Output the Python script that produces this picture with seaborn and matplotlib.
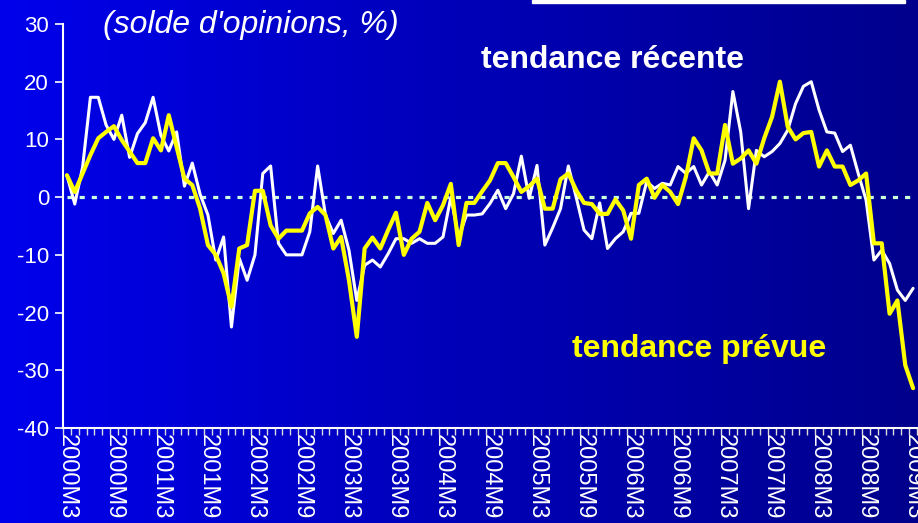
import numpy as np
import pandas as pd
import matplotlib
matplotlib.use("Agg")
import matplotlib.pyplot as plt
import seaborn as sns
from matplotlib.colors import LinearSegmentedColormap
from matplotlib.patches import Rectangle

# monthly periods 2000M3 .. 2009M3
months = [f"{y}M{m}" for y in range(2000, 2010) for m in range(1, 13)][2:111]

# opinion balance (%)
recent = [3.8, -1.2, 5.2, 17.3, 17.3, 12.5, 10.0, 14.2, 6.9, 11.0,
          12.9, 17.3, 10.7, 8.0, 11.3, 1.9, 5.9, 0.5, -3.1, -10.9,
          -6.9, -22.5, -10.6, -14.4, -10.0, 4.1, 5.4, -8.0, -10.0, -10.0,
          -10.0, -6.0, 5.4, -3.1, -6.3, -4.0, -9.2, -17.9, -11.8, -10.9,
          -12.1, -9.8, -7.2, -7.2, -8.0, -7.2, -8.0, -8.0, -6.9, 0.0,
          -7.0, -3.1, -3.1, -2.9, -1.1, 1.2, -2.0, 0.6, 7.1, -0.2,
          5.5, -8.3, -5.3, -2.0, 5.4, 0.0, -5.7, -7.2, -1.0, -8.9,
          -7.2, -6.0, -2.8, -2.8, 2.7, 1.5, 2.4, 2.1, 5.3, 4.1,
          5.3, 2.1, 4.4, 2.1, 6.4, 18.3, 11.3, -2.0, 8.1, 7.0,
          7.9, 9.3, 11.6, 16.2, 19.2, 20.0, 15.1, 11.3, 11.1, 7.9,
          9.0, 4.1, -0.5, -10.9, -9.2, -11.5, -16.1, -17.9, -15.8]

expected = [3.8, 0.9, 4.1, 7.3, 10.2, 11.3, 12.3, 9.9, 7.9, 5.9,
            5.9, 10.2, 8.1, 14.2, 8.7, 3.2, 2.1, -2.0, -8.3, -10.0,
            -13.2, -19.0, -8.9, -8.3, 1.1, 1.1, -4.9, -7.2, -5.8, -5.8,
            -5.8, -2.8, -1.7, -3.1, -8.9, -6.9, -14.4, -24.2, -8.9, -7.0,
            -8.9, -5.7, -2.7, -10.0, -7.2, -6.0, -1.0, -4.0, -1.4, 2.3,
            -8.3, -1.0, -1.0, 1.0, 2.9, 5.9, 5.9, 3.5, 0.9, 1.9,
            3.2, -2.0, -2.0, 3.1, 4.1, 1.2, -1.0, -1.2, -2.9, -2.9,
            -0.4, -2.3, -7.2, 2.1, 3.2, -0.1, 2.1, 0.9, -1.2, 3.5,
            10.2, 8.1, 4.1, 4.1, 12.5, 5.8, 6.7, 8.1, 5.8, 10.2,
            13.9, 20.0, 12.2, 10.0, 11.1, 11.3, 5.3, 8.1, 5.3, 5.3,
            2.1, 2.9, 4.1, -8.0, -8.0, -20.2, -17.9, -29.1, -33.1]

tick_labels = ["2000M3", "2000M9", "2001M3", "2001M9", "2002M3", "2002M9",
               "2003M3", "2003M9", "2004M3", "2004M9", "2005M3", "2005M9",
               "2006M3", "2006M9", "2007M3", "2007M9", "2008M3", "2008M9",
               "2009M3"]

df = pd.DataFrame({"period": months, "recent": recent, "expected": expected})
df["pos"] = range(len(df))

sns.set_style("white")
plt.rcParams["font.family"] = ["Liberation Sans", "DejaVu Sans"]
plt.rcParams["axes.unicode_minus"] = False

W, H = 918, 523
fig = plt.figure(figsize=(W / 100, H / 100), dpi=100)

# blue gradient background
bg = fig.add_axes([0, 0, 1, 1])
cmap = LinearSegmentedColormap.from_list("bg", ["#0000ec", "#0000b8", "#00008c"])
bg.imshow(np.linspace(0, 1, 256)[None, :], cmap=cmap, aspect="auto",
          extent=[0, 1, 0, 1])
bg.axis("off")

ax = fig.add_axes([63 / W, 1 - 428 / H, (917 - 63) / W, (428 - 24) / H])
ax.set_facecolor("none")

ax.hlines(0, 0, len(df) - 0.5, colors="#ccffdd", lw=2.3,
          linestyles=(0, (1.6, 2.2)), zorder=1.5)
sns.lineplot(data=df, x="pos", y="recent", color="white", lw=2.2, ax=ax,
             zorder=3)
sns.lineplot(data=df, x="pos", y="expected", color="#ffff00", lw=3.0, ax=ax,
             zorder=4)

ax.set_xlim(-0.5, len(df) - 0.5)
ax.set_ylim(-40, 30)
ax.set_yticks(range(-40, 31, 10))
ax.tick_params(axis="y", colors="white", labelsize=16, direction="out",
               length=6, width=1.2, pad=4, left=True)

label_pos = [months.index(t) for t in tick_labels]
ax.set_xticks(label_pos)
ax.set_xticklabels(tick_labels, rotation=270, color="white", fontsize=17)
ax.set_xticks(np.arange(-0.5, len(df), 1), minor=True)
ax.tick_params(axis="x", which="major", length=0, pad=4)
ax.tick_params(axis="x", which="minor", colors="#dddddd", direction="out",
               length=5, width=1, bottom=True)
ax.set_xlabel("")
ax.set_ylabel("")

for s in ["top", "right"]:
    ax.spines[s].set_visible(False)
for s in ["left", "bottom"]:
    ax.spines[s].set_color("white")
    ax.spines[s].set_linewidth(1.5)

fig.text(103 / W, 1 - 25 / H, "(solde d'opinions, %)", color="white",
         fontsize=23, style="italic", va="center", ha="left")
fig.text(481 / W, 1 - 60 / H, "tendance récente", color="white",
         fontsize=23, weight="bold", va="center", ha="left")
fig.text(572 / W, 1 - 349 / H, "tendance prévue", color="#ffff00",
         fontsize=23, weight="bold", va="center", ha="left")

fig.patches.append(Rectangle((532 / W, 1 - 3 / H), (905 - 532) / W, 3 / H,
                             transform=fig.transFigure, color="white"))

fig.savefig("out.png", dpi=100)
